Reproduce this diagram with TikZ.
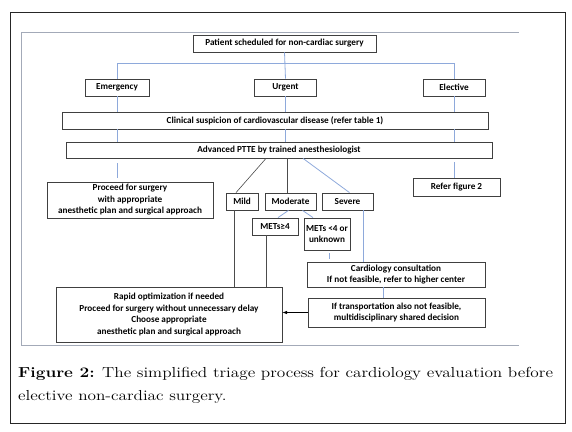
\documentclass[tikz,border=0pt]{standalone}
\usepackage{fontspec}
\newfontfamily\boxfont{Carlito}
\definecolor{lineblue}{HTML}{8EA9DB}
\definecolor{framegray}{HTML}{A3AAB8}
\begin{document}
\begin{tikzpicture}[x=1pt,y=-1pt,
	box/.style={draw=black!75,line width=0.8pt,fill=white,inner sep=1pt,align=center,
		font=\boxfont\bfseries\fontsize{9.2}{11.5}\selectfont},
	bl/.style={draw=lineblue,line width=0.8pt},
	gl/.style={draw=black!70,line width=0.6pt}]
				\useasboundingbox (0,0) rectangle (572,431);
				\draw[black!85,line width=1pt] (10,12) rectangle (565,423);
				\draw[framegray,line width=0.8pt] (519,32) -- (21,32) -- (21,345) -- (519,345);
				\node[box,minimum width=183,minimum height=17] (pat) at (284.5,43.5) {Patient scheduled for non-cardiac surgery};
				\node[box,minimum width=64,minimum height=17] (emg) at (117,87.5) {Emergency};
				\node[box,minimum width=62,minimum height=17] (urg) at (285.5,87.5) {Urgent};
				\node[box,minimum width=62,minimum height=17] (elc) at (454,87.5) {Elective};
				\coordinate (bar) at (0,63);
				\draw[bl] (pat.south) -- (urg.north);
				\draw[bl] (emg.north) -- (emg.north |- bar) -- (elc.north |- bar) -- (elc.north);
				\node[box,minimum width=426,minimum height=17] (clin) at (275,120.5) {Clinical suspicion of cardiovascular disease (refer table 1)};
				\node[box,minimum width=426,minimum height=16] (adv) at (279,150) {Advanced PTTE by trained anesthesiologist};
				\draw[bl] (emg.south) -- (emg.south |- clin.north);
				\draw[bl] (urg.south) -- (urg.south |- clin.north);
				\draw[bl] (elc.south) -- (elc.south |- clin.north);
				\draw[bl] (emg.south |- clin.south) -- (emg.south |- adv.north);
				\draw[bl] (urg.south |- clin.south) -- (urg.south |- adv.north);
				\draw[bl] (elc.south |- clin.south) -- (elc.south |- adv.north);
				\node[box,minimum width=166,minimum height=36] (proc) at (130,200) {Proceed for surgery\\with appropriate\\anesthetic plan and surgical approach};
				\node[box,minimum width=87,minimum height=18] (ref) at (456.5,187) {Refer figure 2};
				\draw[bl,shorten <=5pt,shorten >=4pt] (emg.south |- adv.south) -- (emg.south |- proc.north);
				\draw[bl,shorten <=4pt] (elc.south |- adv.south) -- (elc.south |- ref.north);
				\node[box,minimum width=32,minimum height=17] (mild) at (242,201.5) {Mild};
				\node[box,minimum width=51,minimum height=17] (mod) at (290.5,201.5) {Moderate};
				\node[box,minimum width=51,minimum height=17] (sev) at (347.5,201.5) {Severe};
				\draw[gl] ([xshift=-13]adv.south) -- ([xshift=-6]mild.north);
				\draw[gl] ([xshift=8]adv.south) -- ([xshift=-3.5]mod.north);
				\draw[bl] ([xshift=24]adv.south) -- ([xshift=2]sev.north);
				\node[box,minimum width=46,minimum height=17] (m4) at (275,226.5) {METs≥4};
				\node[box,minimum width=46,minimum height=32] (mlt) at (327,234) {METs <4 or\\unknown};
				\draw[bl] ([xshift=-2]mod.south) -- ([xshift=3]m4.north);
				\draw[bl] ([xshift=12]mod.south) -- ([xshift=-14]mlt.north);
				\node[box,minimum width=178,minimum height=25] (card) at (396,274.5) {Cardiology consultation\\If not feasible, refer to higher center};
				\node[box,minimum width=177,minimum height=29] (trans) at (396.5,312.5) {If transportation also not feasible,\\multidisciplinary shared decision};
				\node[box,minimum width=226,minimum height=55] (rapid) at (169,314.5) {Rapid optimization if needed\\Proceed for surgery without unnecessary delay\\Choose appropriate\\anesthetic plan and surgical approach};
				\draw[gl] ([xshift=-8]mild.south) -- ([xshift=-8]mild.south |- rapid.north);
				\draw[gl] ([xshift=-9]m4.south) -- ([xshift=-9]m4.south |- rapid.north);
				\draw[bl] ([xshift=16]sev.south) -- ([xshift=16]sev.south |- card.north);
				\draw[bl,shorten <=3pt,shorten >=3pt] ([xshift=2]mlt.south) -- ([xshift=2]mlt.south |- card.north);
				\draw[bl] ([xshift=-13]card.south) -- ([xshift=-13]card.south |- trans.north);
				\draw[black,line width=0.6pt,-latex] (trans.west) -- (trans.west -| rapid.east);
				\node[anchor=north west,inner sep=0,align=left,font=\fontsize{14.5}{23}\selectfont] (cap) at (18,367)
					{\scalebox{1.19}[1]{\textbf{Figure 2:} The simplified triage process for cardiology evaluation before}\\
					\scalebox{1.19}[1]{elective non-cardiac surgery.}};
			\end{tikzpicture}
\end{document}
